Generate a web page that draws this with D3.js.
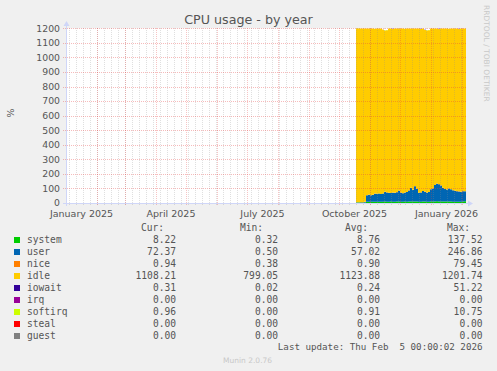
<!DOCTYPE html>
<html lang="en">
<head>
    <meta charset="UTF-8">
    <title>CPU usage - by year</title>
    <script src="https://d3js.org/d3.v7.min.js"></script>
</head>
<body>
    <div id="chart"></div>

    <script>
        // Sample values, one every 2 days starting 18 Oct 2025 (munin yearly rrd)
        const firstSample = new Date(Date.UTC(2025, 9, 18));
        const system = [3, 3, 3, 3, 3, 8, 9, 9, 8, 9, 9, 8, 9, 9, 10, 9, 9, 10, 9, 9,
            10, 10, 9, 9, 10, 9, 10, 11, 10, 11, 10, 9, 9, 10, 10, 9, 9, 10, 10, 11,
            12, 11, 11, 10, 10, 10, 10, 10, 9, 9, 9, 9, 9, 10, 12];
        const user = [2, 2, 3, 3, 4, 45, 48, 44, 47, 55, 54, 57, 52, 56, 66, 63, 60, 58, 62, 60,
            64, 74, 62, 58, 61, 66, 76, 92, 80, 104, 88, 60, 63, 72, 68, 62, 66, 84, 90, 112,
            121, 118, 110, 94, 86, 82, 90, 84, 78, 74, 72, 70, 67, 71, 68];
        const nice = [1, 1, 1, 1, 1, 1, 1, 1, 1, 1, 1, 1, 1, 1, 1, 1, 1, 1, 1, 1,
            1, 1, 1, 1, 1, 1, 1, 1, 1, 1, 1, 1, 1, 1, 1, 1, 1, 1, 1, 1,
            1, 1, 1, 1, 1, 1, 1, 1, 1, 1, 1, 1, 1, 1, 1];
        const idle = [1192, 1192, 1191, 1191, 1190, 1144, 1140, 1144, 1142, 1130, 1134, 1132, 1136, 1125, 1108, 1114, 1128, 1129, 1124, 1128,
            1123, 1113, 1126, 1130, 1123, 1122, 1111, 1094, 1107, 1082, 1099, 1128, 1123, 1115, 1110, 1113, 1111, 1103, 1097, 1074,
            1064, 1066, 1076, 1093, 1101, 1105, 1094, 1103, 1110, 1114, 1116, 1116, 1121, 1116, 1117];
        const iowait = [0.3, 0.3, 0.3, 0.3, 0.3, 0.3, 0.3, 0.3, 0.3, 0.3, 0.3, 0.3, 0.3, 0.3, 0.3, 0.3, 0.3, 0.3, 0.3, 0.3,
            0.3, 0.3, 0.3, 0.3, 0.3, 0.3, 0.3, 0.3, 0.3, 0.3, 0.3, 0.3, 0.3, 0.3, 0.3, 0.3, 0.3, 0.3, 0.3, 0.3,
            0.3, 0.3, 0.3, 0.3, 0.3, 0.3, 0.3, 0.3, 0.3, 0.3, 0.3, 0.3, 0.3, 0.3, 0.3];
        const irq = [0, 0, 0, 0, 0, 0, 0, 0, 0, 0, 0, 0, 0, 0, 0, 0, 0, 0, 0, 0,
            0, 0, 0, 0, 0, 0, 0, 0, 0, 0, 0, 0, 0, 0, 0, 0, 0, 0, 0, 0,
            0, 0, 0, 0, 0, 0, 0, 0, 0, 0, 0, 0, 0, 0, 0];
        const softirq = [2, 2, 1, 1, 1, 1, 1, 1, 1, 1, 1, 1, 1, 1, 1, 1, 1, 1, 1, 1,
            1, 1, 1, 1, 1, 1, 1, 1, 1, 1, 1, 1, 1, 1, 1, 1, 1, 1, 1, 1,
            1, 1, 1, 1, 1, 1, 1, 1, 1, 1, 1, 1, 1, 1, 1];
        const steal = irq;
        const guest = irq;

        // Legend table
        const seriesNames = ['system', 'user', 'nice', 'idle', 'iowait', 'irq', 'softirq', 'steal', 'guest'];
        const seriesColors = ['#00CC00', '#0066B3', '#FF8000', '#FFCC00', '#330099', '#990099', '#CCFF00', '#FF0000', '#808080'];
        const curVals = ['8.22', '72.37', '0.94', '1108.21', '0.31', '0.00', '0.96', '0.00', '0.00'];
        const minVals = ['0.32', '0.50', '0.38', '799.05', '0.02', '0.00', '0.00', '0.00', '0.00'];
        const avgVals = ['8.76', '57.02', '0.90', '1123.88', '0.24', '0.00', '0.91', '0.00', '0.00'];
        const maxVals = ['137.52', '246.86', '79.45', '1201.74', '51.22', '0.00', '10.75', '0.00', '0.00'];
        const yTicks = [0, 100, 200, 300, 400, 500, 600, 700, 800, 900, 1000, 1100, 1200];
        const xLabelMonths = [new Date(Date.UTC(2025, 0, 1)), new Date(Date.UTC(2025, 3, 1)),
            new Date(Date.UTC(2025, 6, 1)), new Date(Date.UTC(2025, 9, 1)), new Date(Date.UTC(2026, 0, 1))];

        const width = 497, height = 371;
        const plotLeft = 66, plotRight = 466, plotTop = 28.3, plotBottom = 203;
        const startDate = new Date(Date.UTC(2025, 0, 1));
        const endDate = new Date(Date.UTC(2026, 1, 5));
        const font = 'DejaVu Sans, sans-serif';
        const mono = 'DejaVu Sans Mono, monospace';
        const textColor = '#555';

        const svg = d3.select('#chart').append('svg')
            .attr('width', width).attr('height', height)
            .style('display', 'block');

        svg.append('rect').attr('width', width).attr('height', height).attr('fill', '#f0f0f0');

        const x = d3.scaleUtc().domain([startDate, endDate]).range([plotLeft, plotRight]);
        const y = d3.scaleLinear().domain([0, 1200]).range([plotBottom, plotTop]);

        // canvas
        svg.append('rect')
            .attr('x', plotLeft).attr('y', plotTop)
            .attr('width', plotRight - plotLeft).attr('height', plotBottom - plotTop)
            .attr('fill', '#fff');

        // build rows
        const series = { system, user, nice, idle, iowait, irq, softirq, steal, guest };
        const rows = user.map((v, i) => {
            const r = { date: d3.utcDay.offset(firstSample, 2 * i) };
            seriesNames.forEach(k => r[k] = series[k][i]);
            return r;
        });
        rows.push(Object.assign({}, rows[rows.length - 1], { date: endDate }));

        const stack = d3.stack().keys(seriesNames);
        const layers = stack(rows);

        const area = d3.area()
            .curve(d3.curveStepAfter)
            .x(d => x(d.data.date))
            .y0(d => y(d[0]))
            .y1(d => y(d[1]));

        svg.append('g').selectAll('path')
            .data(layers)
            .enter()
            .append('path')
            .attr('fill', (d, i) => seriesColors[i])
            .attr('d', area);

        // grid (drawn over data like rrdtool)
        const grid = svg.append('g').attr('shape-rendering', 'crispEdges');
        const weeks = d3.utcDay.range(d3.utcDay.offset(startDate, 3), endDate, 7);
        const months = d3.utcMonth.range(d3.utcMonth.offset(startDate, 1), endDate);

        grid.selectAll('.minor')
            .data(weeks)
            .enter()
            .append('line')
            .attr('x1', d => Math.round(x(d)) + 0.5).attr('x2', d => Math.round(x(d)) + 0.5)
            .attr('y1', plotTop).attr('y2', plotBottom + 2)
            .attr('stroke', 'rgba(140,140,140,0.28)')
            .attr('stroke-dasharray', '1,1');

        grid.selectAll('.major')
            .data(months)
            .enter()
            .append('line')
            .attr('x1', d => Math.round(x(d)) + 0.5).attr('x2', d => Math.round(x(d)) + 0.5)
            .attr('y1', plotTop).attr('y2', plotBottom + 3)
            .attr('stroke', 'rgba(230,60,60,0.3)')
            .attr('stroke-dasharray', '1,1');

        grid.selectAll('.hgrid')
            .data(yTicks)
            .enter()
            .append('line')
            .attr('x1', plotLeft - 3).attr('x2', plotRight)
            .attr('y1', d => Math.round(y(d)) + 0.5).attr('y2', d => Math.round(y(d)) + 0.5)
            .attr('stroke', 'rgba(230,60,60,0.35)')
            .attr('stroke-dasharray', '1,1');

        // axes
        const axisColor = '#CFD6F8';
        svg.append('line')
            .attr('x1', plotLeft + 0.5).attr('x2', plotLeft + 0.5)
            .attr('y1', plotBottom + 3).attr('y2', 23)
            .attr('stroke', axisColor);
        svg.append('path')
            .attr('d', `M${plotLeft - 2.5},26 L${plotLeft + 3.5},26 L${plotLeft + 0.5},21 Z`)
            .attr('fill', axisColor);
        svg.append('line')
            .attr('x1', plotLeft - 3).attr('x2', 470)
            .attr('y1', plotBottom + 0.5).attr('y2', plotBottom + 0.5)
            .attr('stroke', axisColor);
        svg.append('path')
            .attr('d', `M468,${plotBottom - 2.5} L468,${plotBottom + 3.5} L473,${plotBottom + 0.5} Z`)
            .attr('fill', axisColor);

        // y tick labels
        svg.append('g').selectAll('text')
            .data(yTicks)
            .enter()
            .append('text')
            .attr('x', 60)
            .attr('y', d => y(d) + 3.3)
            .attr('text-anchor', 'end')
            .attr('font-family', font).attr('font-size', 9.3)
            .attr('fill', textColor)
            .text(d => d);

        // x labels, centred in their month
        svg.append('g').selectAll('text')
            .data(xLabelMonths)
            .enter()
            .append('text')
            .attr('x', d => (x(d) + x(d3.utcMonth.offset(d, 1))) / 2)
            .attr('y', 216.5)
            .attr('text-anchor', 'middle')
            .attr('font-family', font).attr('font-size', 9.5)
            .attr('fill', textColor)
            .text(d => d3.utcFormat('%B %Y')(d));

        // title, unit, watermark
        svg.append('text')
            .attr('x', 248.5).attr('y', 23.5)
            .attr('text-anchor', 'middle')
            .attr('font-family', font).attr('font-size', 12.7)
            .attr('fill', textColor)
            .text('CPU usage - by year');

        svg.append('text')
            .attr('transform', 'translate(14,113) rotate(-90)')
            .attr('text-anchor', 'middle')
            .attr('font-family', font).attr('font-size', 9.5)
            .attr('fill', textColor)
            .text('%');

        svg.append('text')
            .attr('transform', 'translate(484,5) rotate(90)')
            .attr('font-family', font).attr('font-size', 7.5)
            .attr('fill', '#c8c8c8')
            .text('RRDTOOL / TOBI OETIKER');

        // legend
        const legend = svg.append('g')
            .attr('font-family', mono).attr('font-size', 9.6)
            .attr('fill', textColor);

        const headers = [['Cur:', 164], ['Min:', 263], ['Avg:', 368], ['Max:', 470]];
        legend.selectAll('.hdr')
            .data(headers)
            .enter()
            .append('text')
            .attr('x', d => d[1]).attr('y', 231)
            .attr('text-anchor', 'end')
            .text(d => d[0]);

        const row = legend.selectAll('.row')
            .data(seriesNames)
            .enter()
            .append('g')
            .attr('transform', (d, i) => `translate(0,${243 + i * 12})`);

        row.append('rect')
            .attr('x', 14).attr('y', -6)
            .attr('width', 6).attr('height', 6)
            .attr('fill', (d, i) => seriesColors[i]);

        row.append('text').attr('x', 27).text(d => d);

        const cols = [[curVals, 176], [minVals, 278], [avgVals, 380], [maxVals, 482.5]];
        cols.forEach(([vals, xr]) => {
            row.append('text')
                .attr('x', xr)
                .attr('text-anchor', 'end')
                .text((d, i) => vals[i]);
        });

        legend.append('text')
            .attr('x', 482.5).attr('y', 350)
            .attr('text-anchor', 'end')
            .attr('font-size', 9.2)
            .style('white-space', 'pre')
            .text('Last update: Thu Feb  5 00:00:02 2026');

        svg.append('text')
            .attr('x', 223).attr('y', 362.5)
            .attr('font-family', font).attr('font-size', 7.5)
            .attr('fill', '#c8c8c8')
            .text('Munin 2.0.76');
    </script>
</body>
<style>
    body {
        margin: 0;
        background: #f0f0f0;
    }
</style>
</html>
